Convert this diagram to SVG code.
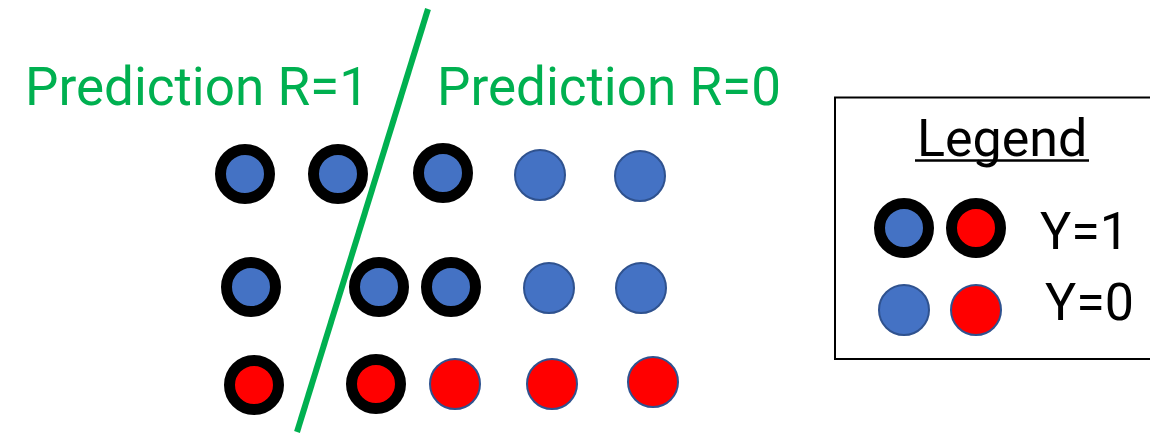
<svg xmlns="http://www.w3.org/2000/svg" width="1150" height="433" viewBox="0 0 1150 433">
<style>
.y1b{fill:#4472C4;stroke:#000;stroke-width:11}
.y1r{fill:#FF0000;stroke:#000;stroke-width:11}
.y0b{fill:#4472C4;stroke:#2F528F;stroke-width:2}
.y0r{fill:#FF0000;stroke:#2F528F;stroke-width:2}
.lbl{font-family:Roboto,"Liberation Sans",sans-serif;fill:#00B050;font-size:53px}
.lg{font-family:Roboto,"Liberation Sans",sans-serif;fill:#000;font-size:52px}
</style>
<rect width="1150" height="433" fill="#fff"/>
<g id="labels">
<text class="lbl" x="25" y="105">Prediction R=1</text>
<text class="lbl" x="437" y="105">Prediction R=0</text>
</g>
<g id="row1">
<circle class="y1b" cx="245" cy="174" r="24.5"/>
<circle class="y1b" cx="338" cy="174" r="24.5"/>
<circle class="y1b" cx="443" cy="173" r="24.5"/>
<circle class="y0b" cx="540" cy="175" r="25"/>
<circle class="y0b" cx="640" cy="176" r="25"/>
</g>
<g id="row2">
<circle class="y1b" cx="251" cy="287" r="24.5"/>
<circle class="y1b" cx="379" cy="287" r="24.5"/>
<circle class="y1b" cx="451" cy="287" r="24.5"/>
<circle class="y0b" cx="549" cy="288" r="25"/>
<circle class="y0b" cx="641" cy="288" r="25"/>
</g>
<g id="row3">
<circle class="y1r" cx="254" cy="385" r="24.5"/>
<circle class="y1r" cx="376" cy="384" r="24.5"/>
<circle class="y0r" cx="455" cy="384" r="25"/>
<circle class="y0r" cx="552" cy="384" r="25"/>
<circle class="y0r" cx="653" cy="382" r="25"/>
</g>
<g id="divider">
<line x1="428" y1="9" x2="297" y2="432" stroke="#00B050" stroke-width="6"/>
</g>
<g id="legend">
<rect x="835" y="97.5" width="320" height="261.5" fill="none" stroke="#000" stroke-width="2"/>
<text class="lg" x="917" y="156">Legend</text>
<line x1="915" y1="160.5" x2="1089" y2="160.5" stroke="#000" stroke-width="2.5"/>
<circle class="y1b" cx="904" cy="228" r="24.5"/>
<circle class="y1r" cx="976" cy="228" r="24.5"/>
<text class="lg" x="1040" y="249">Y=1</text>
<circle class="y0b" cx="904" cy="310" r="25"/>
<circle class="y0r" cx="976" cy="310" r="25"/>
<text class="lg" x="1045" y="320">Y=0</text>
</g>
</svg>
